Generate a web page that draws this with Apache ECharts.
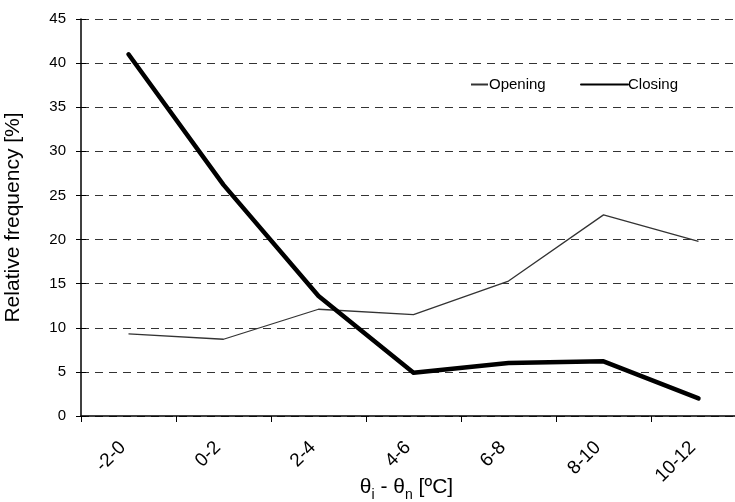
<!DOCTYPE html>
<html>
<head>
<meta charset="utf-8">
<script src="https://cdn.jsdelivr.net/npm/echarts@6/dist/echarts.min.js"></script>
<style>html,body{margin:0;padding:0;background:#fff;}#c{width:735px;height:502px;}</style>
</head>
<body>
<div id="c"></div>
<script>
var categories = ['-2-0', '0-2', '2-4', '4-6', '6-8', '8-10', '10-12'];
var opening = [9.3, 8.7, 12.1, 11.5, 15.3, 22.8, 19.8];
var closing = [41.0, 26.2, 13.6, 4.9, 6.0, 6.2, 2.0];
var yTicks = { min: 0, max: 45, interval: 5 };

var chart = echarts.init(document.getElementById('c'), null, { renderer: 'canvas' });
var font = 'Liberation Sans, Arial, sans-serif';
chart.setOption({
  animation: false,
  backgroundColor: '#ffffff',
  grid: { left: 81, right: -11, top: 19, bottom: 86, containLabel: false, outerBoundsMode: 'none' },
  legend: [
    { id: 'legOpen', data: ['Opening'], left: 465, top: 72, itemWidth: 17, itemHeight: 14, itemGap: 0,
      itemStyle: { opacity: 0 },
      textStyle: { fontFamily: font, fontSize: 15, color: '#000', padding: [0,0,0,-4] } },
    { id: 'legClose', data: ['Closing'], left: 575, top: 72, itemWidth: 47, itemHeight: 14, itemGap: 0,
      itemStyle: { opacity: 0 },
      textStyle: { fontFamily: font, fontSize: 15, color: '#000', padding: [0,0,0,-5] } }
  ],
  xAxis: {
    type: 'category',
    data: categories,
    boundaryGap: true,
    axisLine: { lineStyle: { color: '#000', width: 1.5 } },
    axisTick: { show: true, length: 6, inside: false, lineStyle: { color: '#000' } },
    axisLabel: { rotate: 45, fontFamily: font, fontSize: 19, color: '#000', margin: 23, padding: [0, 8, 0, 0] },
    name: '{a|θ}{s|i}{a| - θ}{s|n}{a| [ºC]}',
    nameLocation: 'middle',
    nameGap: 61,
    nameMoveOverlap: false,
    nameTextStyle: {
      padding: [0, 14, 0, 0],
      rich: {
        a: { fontFamily: font, fontSize: 21, color: '#000', verticalAlign: 'bottom' },
        s: { fontFamily: font, fontSize: 14, color: '#000', verticalAlign: 'bottom', padding: [0, 0, -4, 0] }
      }
    }
  },
  yAxis: [
    {
      type: 'value',
      min: yTicks.min, max: yTicks.max, interval: yTicks.interval,
      axisLine: { show: true, lineStyle: { color: '#000', width: 1.5 } },
      axisTick: { show: true, length: 5, inside: false, lineStyle: { color: '#000' } },
      axisLabel: { fontFamily: font, fontSize: 15, color: '#000', margin: 15 },
      splitLine: { show: true, lineStyle: { color: '#333', type: [8, 6], width: 1 } },
      name: 'Relative frequency [%]',
      nameLocation: 'middle',
      nameGap: 57,
      nameMoveOverlap: false,
      nameTextStyle: { fontFamily: font, fontSize: 21, color: '#000' }
    },
    {
      type: 'value', position: 'left',
      min: yTicks.min, max: yTicks.max, interval: yTicks.interval,
      axisLine: { show: false },
      axisTick: { show: true, length: 5, inside: true, lineStyle: { color: '#000' } },
      axisLabel: { show: false },
      splitLine: { show: false }
    }
  ],
  series: [
    { name: 'Opening', type: 'line', data: opening, symbol: 'none',
      lineStyle: { color: '#333', width: 1.3 }, itemStyle: { color: '#333' } },
    { name: 'Closing', type: 'line', data: closing, symbol: 'none',
      lineStyle: { color: '#000', width: 4.5, cap: 'round', join: 'round' }, itemStyle: { color: '#000' } }
  ]
});
</script>
</body>
</html>
